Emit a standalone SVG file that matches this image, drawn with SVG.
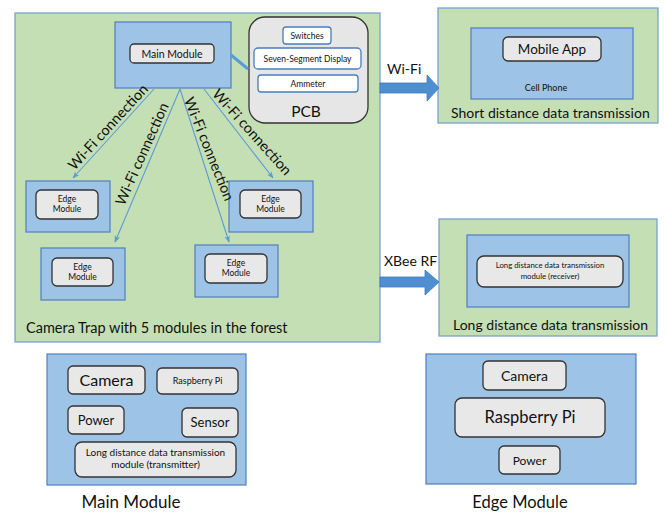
<svg xmlns="http://www.w3.org/2000/svg" width="665" height="512" viewBox="0 0 665 512">
  <style>
    text { font-family: Lato, "Open Sans", "Liberation Sans", sans-serif; fill: #111; }
    .area { fill: #c5dfb4; stroke: #6f9bcf; stroke-width: 1.2; }
    .mod { fill: #9dc3e6; stroke: #4f7fbf; stroke-width: 1.2; }
    .part { fill: #e8e8e8; stroke: #333; stroke-width: 1.3; }
    .chip { fill: #fff; stroke: #4a7ebb; stroke-width: 1.3; }
    .pcb { fill: #e6e6e6; stroke: #333; stroke-width: 1.3; }
    .wifi { stroke: #5b9bd5; stroke-width: 1.1; fill: none; marker-end: url(#tip); }
    .big { fill: #4f8fd0; stroke: #3e7cbf; stroke-width: 0.8; }
    .mid { text-anchor: middle; }
  </style>
  <defs>
    <marker id="tip" viewBox="0 0 10 10" refX="9" refY="5" markerWidth="7" markerHeight="7" orient="auto" markerUnits="userSpaceOnUse">
      <path d="M0,1 L10,5 L0,9 L2.5,5 Z" fill="#5b9bd5"/>
    </marker>
  </defs>

  <rect width="665" height="512" fill="#fff"/>

  <!-- forest camera trap area -->
  <g id="camera-trap">
    <rect class="area" x="15" y="13" width="365" height="329"/>
    <text x="26" y="333" font-size="14.5">Camera Trap with 5 modules in the forest</text>
  </g>

  <g id="main-module">
    <rect class="mod" x="115" y="22" width="116" height="66"/>
    <rect class="part" x="130" y="44" width="84" height="19" rx="4"/>
    <text class="mid" x="172" y="58" font-size="10.5">Main Module</text>
  </g>

  <g id="pcb">
    <rect class="pcb" x="249" y="17" width="119" height="106" rx="16"/>
    <rect class="chip" x="283" y="27" width="48" height="17" rx="3"/>
    <text class="mid" x="307" y="39" font-size="8.5">Switches</text>
    <rect class="chip" x="254" y="48" width="107" height="21" rx="4"/>
    <text class="mid" x="307.5" y="61.5" font-size="8.5">Seven-Segment Display</text>
    <rect class="chip" x="258" y="75" width="100" height="17" rx="3"/>
    <text class="mid" x="308" y="87" font-size="8.5">Ammeter</text>
    <text class="mid" x="306" y="117" font-size="15.5">PCB</text>
  </g>

  <g id="edge-1">
    <rect class="mod" x="26" y="181" width="84" height="51"/>
    <rect class="part" x="36" y="190" width="62" height="29" rx="5"/>
    <text class="mid" x="67" y="202" font-size="8.5">Edge</text>
    <text class="mid" x="67" y="212" font-size="8.5">Module</text>
  </g>
  <g id="edge-2">
    <rect class="mod" x="41" y="248" width="84" height="52"/>
    <rect class="part" x="52" y="258" width="61" height="28" rx="5"/>
    <text class="mid" x="82.5" y="270" font-size="8.5">Edge</text>
    <text class="mid" x="82.5" y="280" font-size="8.5">Module</text>
  </g>
  <g id="edge-3">
    <rect class="mod" x="195" y="245" width="83" height="52"/>
    <rect class="part" x="205" y="254" width="62" height="29" rx="5"/>
    <text class="mid" x="236" y="266" font-size="8.5">Edge</text>
    <text class="mid" x="236" y="276" font-size="8.5">Module</text>
  </g>
  <g id="edge-4">
    <rect class="mod" x="229" y="181" width="84" height="51"/>
    <rect class="part" x="240" y="190" width="61" height="28" rx="5"/>
    <text class="mid" x="270.5" y="202" font-size="8.5">Edge</text>
    <text class="mid" x="270.5" y="212" font-size="8.5">Module</text>
  </g>

  <!-- short range receiver -->
  <g id="short-distance">
    <rect class="area" x="438" y="8" width="220" height="115"/>
    <rect class="mod" x="471" y="28" width="162" height="71"/>
    <rect class="part" x="503" y="37" width="98" height="24" rx="5"/>
    <text class="mid" x="552" y="53.5" font-size="13.5">Mobile App</text>
    <text class="mid" x="546" y="91" font-size="9">Cell Phone</text>
    <text x="451" y="118" font-size="14">Short distance data transmission</text>
  </g>

  <!-- long range receiver -->
  <g id="long-distance">
    <rect class="area" x="439" y="219" width="218" height="117"/>
    <rect class="mod" x="467" y="235" width="162" height="72"/>
    <rect class="part" x="477" y="256" width="146" height="31" rx="7"/>
    <text class="mid" x="550" y="268" font-size="7.8">Long distance data transmission</text>
    <text class="mid" x="550" y="279" font-size="7.8">module (receiver)</text>
    <text x="453" y="330" font-size="14">Long distance data transmission</text>
  </g>

  <!-- main module breakdown -->
  <g id="main-module-detail">
    <rect class="mod" x="47" y="354" width="199" height="131"/>
    <rect class="part" x="68" y="366" width="77" height="28" rx="5"/>
    <text class="mid" x="106.5" y="386" font-size="16">Camera</text>
    <rect class="part" x="157" y="368" width="81" height="26" rx="5"/>
    <text class="mid" x="197.5" y="384" font-size="9">Raspberry Pi</text>
    <rect class="part" x="68" y="406" width="56" height="28" rx="5"/>
    <text class="mid" x="96" y="425" font-size="13">Power</text>
    <rect class="part" x="182" y="408" width="56" height="29" rx="5"/>
    <text class="mid" x="210" y="427" font-size="13">Sensor</text>
    <rect class="part" x="75" y="442" width="161" height="35" rx="7"/>
    <text class="mid" x="155.5" y="456" font-size="10">Long distance data transmission</text>
    <text class="mid" x="155.5" y="468" font-size="10">module (transmitter)</text>
    <text class="mid" x="131" y="508" font-size="17">Main Module</text>
  </g>

  <!-- edge module breakdown -->
  <g id="edge-module-detail">
    <rect class="mod" x="426" y="354" width="210" height="130"/>
    <rect class="part" x="483" y="361" width="83" height="29" rx="5"/>
    <text class="mid" x="524.5" y="380.5" font-size="14">Camera</text>
    <rect class="part" x="455" y="398" width="150" height="39" rx="7"/>
    <text class="mid" x="530" y="423" font-size="16.5">Raspberry Pi</text>
    <rect class="part" x="499" y="446" width="61" height="28" rx="5"/>
    <text class="mid" x="529.5" y="464.5" font-size="12">Power</text>
    <text class="mid" x="520" y="508" font-size="16.5">Edge Module</text>
  </g>

  <g id="connectors">
    <!-- main module to PCB -->
    <line x1="231" y1="55" x2="248" y2="69" stroke="#5b9bd5" stroke-width="3"/>
    <!-- wifi links to edge modules -->
    <line class="wifi" x1="154" y1="89" x2="73" y2="178"/>
    <line class="wifi" x1="180" y1="89" x2="115" y2="242"/>
    <line class="wifi" x1="180" y1="89" x2="229" y2="242"/>
    <line class="wifi" x1="204" y1="89" x2="273" y2="178"/>
    <text class="mid" font-size="14.5" transform="translate(108,127) rotate(-47.5)" y="5">Wi-Fi connection</text>
    <text class="mid" font-size="14.5" transform="translate(142,154) rotate(-66)" y="5">Wi-Fi connection</text>
    <text class="mid" font-size="14.5" transform="translate(209,149) rotate(68)" y="5">Wi-Fi connection</text>
    <text class="mid" font-size="14.5" transform="translate(252,132) rotate(48)" y="5">Wi-Fi connection</text>

    <!-- block arrows to receivers -->
    <path class="big" d="M380,83 H427 V75 L439,88 L427,101 V93 H380 Z"/>
    <text x="387" y="74" font-size="14">Wi-Fi</text>
    <path class="big" d="M380,277 H425 V270 L439,282 L425,295 V287 H380 Z"/>
    <text x="384" y="266" font-size="14">XBee RF</text>
  </g>
</svg>
